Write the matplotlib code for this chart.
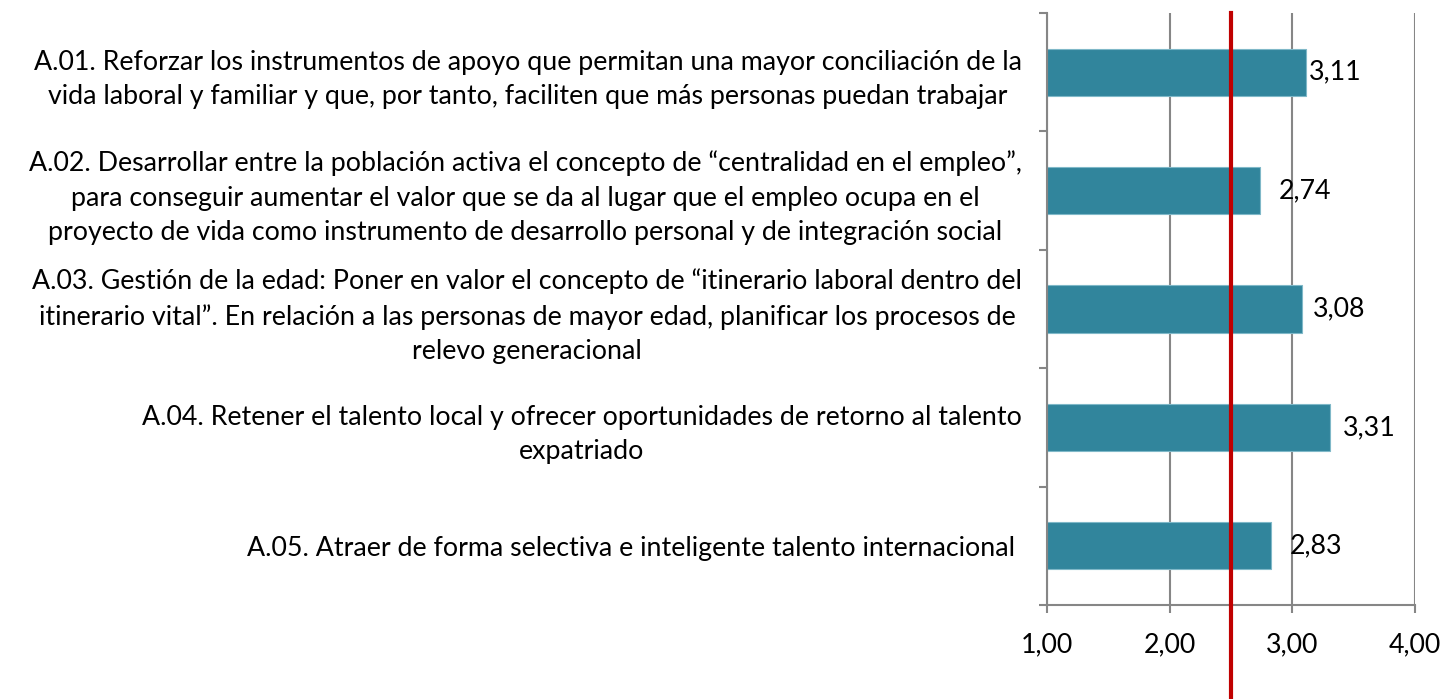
import matplotlib
matplotlib.use("Agg")
import matplotlib.pyplot as plt
import numpy as np

# data
labels = [
    "A.01. Reforzar los instrumentos de apoyo que permitan una mayor conciliación de la\n"
    "vida laboral y familiar y que, por tanto, faciliten que más personas puedan trabajar",
    "A.02. Desarrollar entre la población activa el concepto de “centralidad en el empleo”,\n"
    "para conseguir aumentar el valor que se da al lugar que el empleo ocupa en el\n"
    "proyecto de vida como instrumento de desarrollo personal y de integración social",
    "A.03. Gestión de la edad: Poner en valor el concepto de “itinerario laboral dentro del\n"
    "itinerario vital”. En relación a las personas de mayor edad, planificar los procesos de\n"
    "relevo generacional",
    "A.04. Retener el talento local y ofrecer oportunidades de retorno al talento\n"
    "expatriado",
    "A.05. Atraer de forma selectiva e inteligente talento internacional ",
]
values = [3.11, 2.74, 3.08, 3.31, 2.83]
ref_value = 2.5
xticks = [1, 2, 3, 4]

plt.rcParams['font.family'] = ['Lato', 'DejaVu Sans']

W, H, DPI = 1445, 699, 100
fig = plt.figure(figsize=(W / DPI, H / DPI), dpi=DPI)
ax = fig.add_axes([1047 / W, 1 - 605 / H, (1415 - 1047) / W, (605 - 13) / H])

fs = 19.3
bar_color = '#31859C'
grid_color = '#868686'

y = np.arange(len(values))
ax.barh(y, [v - 1 for v in values], left=1, height=0.4, color=bar_color,
        edgecolor='#7fb8c8', linewidth=0.8, zorder=2)

# value labels (Excel nudged the first one closer)
offsets = [2, 13, 8, 9, 13]
for yi, v, off in zip(y, values, offsets):
    ax.annotate('{:.2f}'.format(v).replace('.', ','), (v, yi),
                xytext=(off, 0), textcoords='offset points',
                va='center', ha='left', fontsize=fs, zorder=4)

ax.set_xlim(1, 4)
ax.set_ylim(len(values) - 0.5, -0.5)
ax.set_xticks(xticks)
ax.set_xticklabels(['{:.2f}'.format(t).replace('.', ',') for t in xticks], fontsize=fs)
ax.xaxis.grid(True, color=grid_color, linewidth=1.5, zorder=0)
ax.set_axisbelow(True)

ax.set_yticks(y)
ax.set_yticklabels(labels, fontsize=fs, multialignment='center', linespacing=1.48)
ax.set_yticks(np.arange(len(values) + 1) - 0.5, minor=True)
ax.tick_params(axis='y', which='major', length=0, pad=18)
ax.tick_params(axis='y', which='minor', length=6, width=1.5, color=grid_color, direction='out')
ax.tick_params(axis='x', length=6, width=1.5, color=grid_color, direction='out', pad=14)

for s in ['top', 'right']:
    ax.spines[s].set_visible(False)
for s in ['left', 'bottom']:
    ax.spines[s].set_color(grid_color)
    ax.spines[s].set_linewidth(1.5)

# red reference line, runs past the axis down to the bottom of the figure
ymin = -(H - 605) / (605 - 13)
ax.plot([ref_value, ref_value], [ymin, 1], color='#C00000', linewidth=3,
        transform=ax.get_xaxis_transform(), clip_on=False, zorder=5)

fig.savefig('out.png', dpi=DPI)
